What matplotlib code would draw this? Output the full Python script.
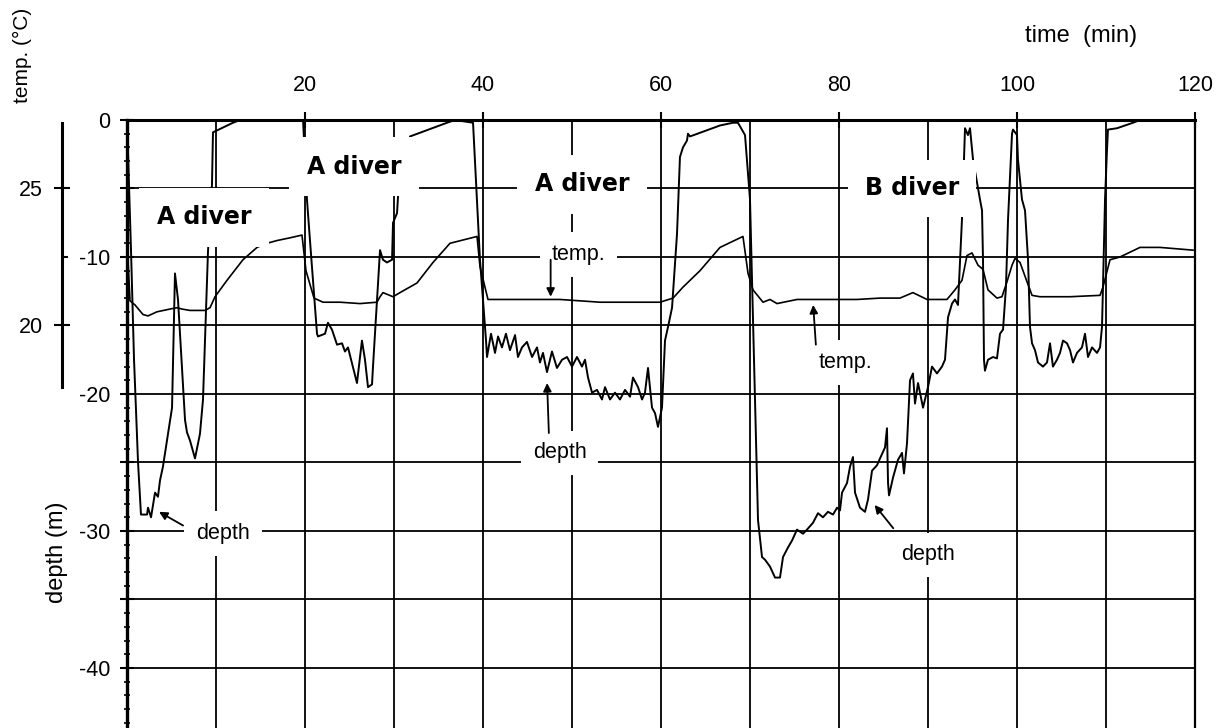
import matplotlib
matplotlib.use("Agg")
import matplotlib.pyplot as plt
from matplotlib.ticker import MultipleLocator, FixedLocator, FuncFormatter

plt.rcParams['font.family'] = ['Liberation Sans', 'DejaVu Sans']

# depth record, one pair of lists per dive (time in min, depth in m)
dive1_t = [0.00, 0.45, 0.79, 1.24, 1.57, 2.25, 2.36, 2.70, 3.15, 3.48, 3.71, 4.04, 5.06,
           5.39, 5.73, 6.52, 6.74, 7.08, 7.64, 8.20, 8.54, 9.10, 9.55, 9.66, 11.91, 12.70]
dive1_d = [0.0, -9.5, -17.5, -25.0, -28.8, -28.8, -28.3, -29.0, -27.2, -27.5, -26.3, -25.3, -21.0,
           -11.2, -13.1, -21.9, -22.8, -23.4, -24.7, -22.9, -20.4, -9.6, -4.7, -0.9, -0.2, 0.0]

dive2_t = [19.78, 20.22, 20.56, 21.35, 21.46, 22.25, 22.58, 23.03, 23.60, 24.16, 24.49, 24.83,
           25.84, 26.18, 26.40, 26.74, 27.08, 27.53, 27.64, 28.43, 28.76, 29.21, 29.78, 29.89,
           30.34, 30.45, 31.24, 31.80, 35.96, 36.85]
dive2_d = [0.0, -5.8, -8.8, -15.6, -15.8, -15.6, -14.8, -15.3, -16.4, -16.3, -16.9, -16.6,
           -19.2, -17.3, -16.1, -17.5, -19.5, -19.3, -18.0, -9.5, -10.2, -10.4, -10.2, -7.5,
           -6.8, -5.6, -3.3, -1.2, -0.2, 0.0]

dive3_t = [38.88, 39.66, 40.34, 40.45, 40.90, 41.35, 41.69, 42.13, 42.58, 43.03, 43.60, 43.93,
           44.38, 44.94, 45.51, 46.07, 46.40, 46.74, 47.19, 47.75, 48.31, 48.88, 49.44, 50.00,
           50.56, 51.12, 51.46, 51.80, 52.25, 52.81, 53.37, 53.71, 54.27, 54.83, 55.39, 55.96,
           56.52, 56.85, 57.42, 57.87, 58.20, 58.54, 58.99, 59.33, 59.66, 60.11, 60.45, 60.79,
           61.24, 61.80, 62.13, 62.47, 62.92, 63.03, 63.26, 66.63, 68.09, 68.65]
dive3_d = [-0.2, -10.2, -16.1, -17.3, -15.6, -17.0, -15.8, -16.6, -15.6, -16.8, -15.7, -17.3,
           -16.6, -16.2, -17.3, -16.6, -17.7, -17.0, -18.4, -16.9, -18.1, -17.5, -17.3, -18.0,
           -17.3, -18.0, -17.5, -18.8, -19.9, -19.7, -20.4, -19.5, -20.4, -19.9, -20.4, -19.7,
           -20.2, -18.8, -19.5, -20.4, -19.9, -18.1, -21.0, -21.4, -22.4, -21.0, -16.1, -15.1,
           -13.7, -8.3, -2.7, -2.0, -1.5, -1.0, -1.2, -0.4, -0.2, -0.2]

dive4_t = [69.44, 70.00, 70.56, 70.90, 71.35, 71.69, 72.25, 72.81, 73.37, 73.71, 74.27, 74.72,
           75.28, 75.96, 76.40, 77.08, 77.64, 78.20, 78.76, 79.33, 79.78, 80.11, 80.34, 80.90,
           81.24, 81.57, 81.80, 82.36, 82.92, 83.26, 83.71, 84.27, 84.61, 85.17, 85.39, 85.51,
           85.62, 86.07, 86.63, 87.08, 87.30, 87.64, 87.98, 88.31, 88.54, 88.88, 89.44, 90.00,
           90.45, 91.01, 91.57, 91.91, 92.25, 92.70, 93.03, 93.37, 93.82, 94.04, 94.16, 94.49,
           94.72, 95.06, 95.84, 96.07, 96.18, 96.29, 96.40, 96.74, 97.30, 97.75, 98.09, 98.43,
           98.76, 98.99, 99.44, 99.55, 100.00, 100.11, 100.56, 100.90, 101.24, 101.46, 101.69,
           102.02, 102.36, 102.92, 103.37, 103.71, 104.04, 104.49, 104.83, 105.17, 105.62,
           105.96, 106.29, 106.74, 107.30, 107.64, 107.98, 108.43, 108.99, 109.33, 109.55,
           109.66, 109.89, 110.11, 110.22, 111.24, 113.03, 113.82, 120.00]
dive4_d = [-1.1, -5.8, -20.4, -29.2, -31.9, -32.1, -32.6, -33.4, -33.4, -31.9, -31.2, -30.7,
           -29.9, -30.2, -29.9, -29.4, -28.7, -29.0, -28.6, -28.8, -28.3, -28.5, -27.2, -26.5,
           -25.3, -24.6, -27.2, -28.3, -28.6, -27.7, -25.6, -25.2, -24.7, -23.9, -22.5, -26.5,
           -27.4, -26.1, -24.8, -24.3, -25.8, -23.6, -19.0, -18.5, -20.7, -19.2, -21.0, -19.5,
           -18.0, -18.5, -18.0, -17.5, -14.4, -13.4, -13.1, -13.5, -7.2, -2.9, -0.6, -1.1,
           -0.6, -2.9, -5.8, -6.6, -10.2, -17.5, -18.3, -17.5, -17.3, -17.4, -15.6, -15.3,
           -12.2, -7.3, -1.0, -0.7, -1.1, -2.9, -5.8, -6.6, -10.2, -15.1, -16.3,
           -16.8, -17.7, -18.0, -17.7, -16.3, -18.0, -17.5, -17.0, -16.1, -16.3,
           -16.8, -17.7, -17.0, -16.6, -15.6, -17.3, -16.6, -17.0, -16.6, -15.1,
           -12.2, -5.8, -2.2, -0.7, -0.6, -0.2, 0.0, 0.0]

# water / sensor temperature (time in min, deg C)
temp1_t = [0.0, 0.34, 0.90, 1.80, 2.36, 3.37, 4.83, 5.62, 6.18, 7.08,
           8.76, 9.33, 9.89, 11.24, 13.03, 14.61, 15.73, 16.85, 18.31, 19.66]
temp1_c = [23.1, 20.9, 20.75, 20.4, 20.35, 20.5, 20.6, 20.65, 20.6, 20.55,
           20.55, 20.65, 21.05, 21.65, 22.4, 22.85, 23.0, 23.1, 23.2, 23.3]
temp2_t = [20.11, 21.01, 21.35, 22.02, 23.93, 26.18, 28.09, 28.43, 28.76, 29.89,
           30.67, 32.58, 34.38, 36.29, 39.33]
temp2_c = [22.0, 21.0, 20.95, 20.85, 20.85, 20.8, 20.85, 21.05, 21.2, 21.05,
           21.2, 21.55, 22.3, 23.0, 23.25]
temp3_t = [39.66, 40.56, 44.16, 48.65, 53.15, 57.64, 59.89, 61.35, 62.47, 64.38, 66.63, 69.21]
temp3_c = [22.15, 20.95, 20.95, 20.95, 20.85, 20.85, 20.85, 21.0, 21.4, 22.0, 22.85, 23.25]
temp4_t = [69.78, 70.34, 71.46, 72.25, 73.03, 75.28, 78.99, 82.02, 84.61, 86.85,
           88.31, 89.89, 92.13, 93.03, 93.82, 94.38, 94.94, 95.62, 96.18, 96.74,
           97.75, 98.31, 98.88, 99.44, 99.78, 100.34, 101.12, 101.69, 102.58, 105.96,
           109.33, 109.66, 110.45, 111.57, 113.82, 116.07, 119.78]
temp4_c = [21.9, 21.3, 20.85, 20.95, 20.8, 20.95, 20.95, 20.95, 21.0, 21.0,
           21.2, 20.95, 20.95, 21.3, 21.65, 22.55, 22.65, 22.2, 22.05, 21.3,
           21.0, 21.05, 21.6, 22.2, 22.45, 22.3, 21.6, 21.1, 21.05, 21.05,
           21.1, 21.4, 22.4, 22.5, 22.85, 22.85, 22.75]

time_ticks = [20, 40, 60, 80, 100, 120]
temp_ticks = [20, 25]
depth_range = (-44.38, 0)

depth_t = dive1_t + dive2_t + dive3_t + dive4_t
depth_m = dive1_d + dive2_d + dive3_d + dive4_d
temp_t = temp1_t + temp2_t + temp3_t + temp4_t
temp_c = temp1_c + temp2_c + temp3_c + temp4_c

fig = plt.figure(figsize=(12.19, 7.28), dpi=100)
ax = fig.add_axes([127 / 1219, 0.0, 1068 / 1219, 608 / 728])
ax.set_xlim(0, 120)
ax.set_ylim(*depth_range)

# grid: every 10 min, every 5 m
ax.set_axisbelow(True)
ax.xaxis.set_major_locator(FixedLocator(time_ticks))
ax.xaxis.set_minor_locator(MultipleLocator(10))
ax.yaxis.set_major_locator(MultipleLocator(5))
ax.yaxis.set_minor_locator(MultipleLocator(1))
ax.yaxis.set_major_formatter(FuncFormatter(
    lambda v, p: str(int(round(v))) if round(v) % 10 == 0 else ""))
ax.grid(True, which='both', axis='x', color='black', lw=1.3)
ax.grid(True, which='major', axis='y', color='black', lw=1.3)

ax.xaxis.tick_top()
ax.tick_params(axis='x', which='major', direction='inout', length=12, width=1.5,
               pad=11, labelsize=15.5)
ax.tick_params(axis='x', which='minor', length=0)
ax.tick_params(axis='y', which='major', direction='inout', length=10, width=1.5,
               pad=7, labelsize=15.5)
ax.tick_params(axis='y', which='minor', direction='inout', length=5, width=1.2)

ax.spines['bottom'].set_visible(False)
ax.spines['top'].set_linewidth(2.2)
ax.spines['left'].set_linewidth(2.4)
ax.spines['right'].set_linewidth(1.6)

ax.plot(depth_t, depth_m, color='black', lw=1.4, zorder=2)

# temperature on its own scale: 25 C sits at -5 m, 20 C at -15 m
tax = ax.twinx()
tax.set_ylim((depth_range[0] + 55) / 2, (depth_range[1] + 55) / 2)
tax.plot(temp_t, temp_c, color='black', lw=1.2, zorder=2)
for side in ['right', 'top', 'bottom']:
    tax.spines[side].set_visible(False)
tax.spines['left'].set_visible(True)
tax.spines['left'].set_position(('outward', 46.8))
tax.spines['left'].set_bounds(17.75, 27.4)
tax.spines['left'].set_linewidth(2.2)
tax.yaxis.tick_left()
tax.set_yticks(temp_ticks)
tax.yaxis.set_minor_locator(FixedLocator([22.5]))
tax.tick_params(axis='y', which='major', direction='inout', length=12, width=1.5,
                pad=8, labelsize=15.5)
tax.tick_params(axis='y', which='minor', direction='in', length=4, width=1.5)

# labels with white masks over the grid
def label(x, y, s, bold=False, pad=0.55):
    kw = dict(fontsize=15.5, family='Liberation Sans')
    if bold:
        kw = dict(fontsize=17, family='DejaVu Sans', fontweight='bold')
    tax.text(x, y, s, transform=ax.transData, ha='center', va='center', zorder=3,
             bbox=dict(boxstyle='square,pad=%s' % pad, facecolor='white', edgecolor='none'),
             **kw)

label(8.65, -7.1, "A diver", bold=True, pad=0.75)
label(25.5, -3.4, "A diver", bold=True, pad=0.75)
label(51.1, -4.7, "A diver", bold=True, pad=0.75)
label(88.2, -5.0, "B diver", bold=True, pad=0.7)
label(50.7, -9.8, "temp.")
label(80.7, -17.7, "temp.")
label(10.8, -30.2, "depth")
label(48.6, -24.3, "depth")
label(90.0, -31.75, "depth")

arrows = [((47.6, -10.2), (47.6, -12.9)),
          ((47.4, -22.85), (47.2, -19.2)),
          ((6.3, -29.6), (3.6, -28.6)),
          ((77.4, -16.4), (77.1, -13.5)),
          ((86.1, -29.8), (84.0, -28.1))]
for start, end in arrows:
    tax.annotate('', xy=end, xytext=start, xycoords=ax.transData, textcoords=ax.transData,
                 zorder=4, arrowprops=dict(arrowstyle='-|>', color='black', lw=1.3,
                                           mutation_scale=12, shrinkA=0, shrinkB=0))

fig.text(22 / 1219, 1 - 55 / 728, "temp. (°C)", rotation=90, ha='center', va='center',
         fontsize=15)
fig.text(57 / 1219, 1 - 552 / 728, "depth (m)", rotation=90, ha='center', va='center',
         fontsize=17)
fig.text(1081 / 1219, 1 - 36 / 728, "time  (min)", ha='center', va='center', fontsize=17)

fig.savefig("out.png", dpi=100)
